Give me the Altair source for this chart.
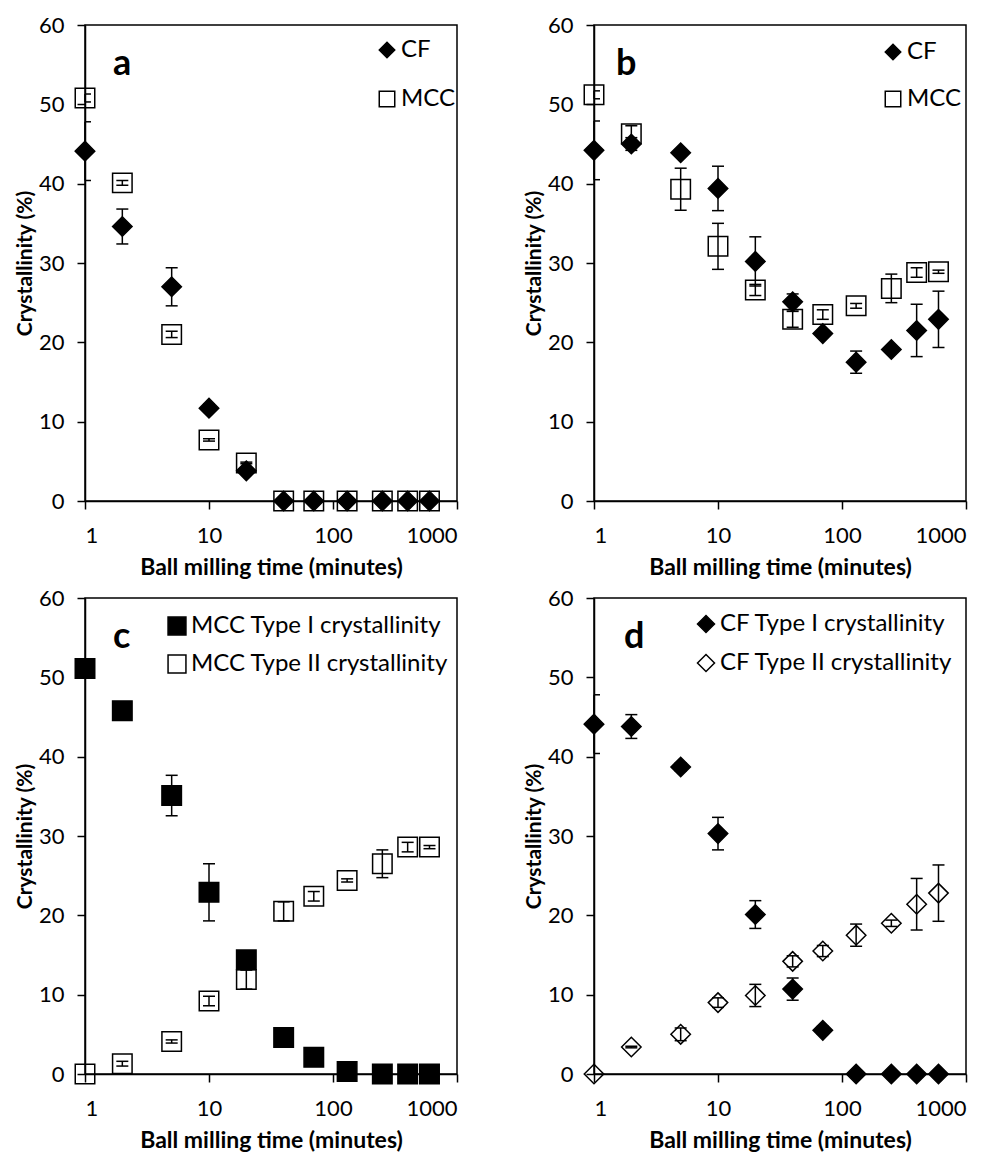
import altair as alt
import pandas as pd

FONT = "Lato"
TIMES = [1, 2, 5, 10, 20, 40, 70, 130, 250, 400, 600]

# Panel a
A_NAMES = ["CF", "MCC"]
A_CF = [44.1, 34.6, 27.0, 11.7, 3.8, 0, 0, 0, 0, 0, 0]
A_CF_ERR = [3.7, 2.2, 2.4, 0.5, 0.3, 0, 0, 0, 0, 0, 0]
A_MCC = [50.8, 40.1, 21.0, 7.7, 4.8, 0, 0, 0, 0, 0, 0]
A_MCC_ERR = [0.5, 0.3, 0.4, 0.15, 0.1, 0, 0, 0, 0, 0, 0]

# Panel b
B_NAMES = ["CF", "MCC"]
B_CF = [44.2, 45.0, 43.9, 39.4, 30.2, 25.1, 21.1, 17.5, 19.1, 21.5, 22.9]
B_CF_ERR = [3.7, 0.8, 0.3, 2.8, 3.1, 1.0, 0.3, 1.4, 0.3, 3.3, 3.55]
B_MCC = [51.2, 46.3, 39.3, 32.1, 26.6, 22.9, 23.5, 24.6, 26.8, 28.8, 28.9]
B_MCC_ERR = [0.5, 1.0, 2.65, 2.9, 0.7, 1.0, 0.6, 0.3, 1.8, 0.6, 0.2]

# Panel c
C_NAMES = ["MCC Type I crystallinity", "MCC Type II crystallinity"]
C_T1 = [51.1, 45.8, 35.1, 22.9, 14.4, 4.6, 2.1, 0.3, 0, 0, 0]
C_T1_ERR = [0, 0, 2.55, 3.6, 0.5, 0, 0, 0, 0, 0, 0]
C_T2 = [0, 1.3, 4.1, 9.2, 11.9, 20.5, 22.4, 24.4, 26.5, 28.6, 28.6]
C_T2_ERR = [0, 0.3, 0.2, 0.6, 1.2, 1.2, 0.6, 0.2, 1.75, 0.6, 0.2]

# Panel d
D_NAMES = ["CF Type I crystallinity", "CF Type II crystallinity"]
D_T1 = [44.1, 43.8, 38.7, 30.3, 20.1, 10.7, 5.5, 0, 0, 0, 0]
D_T1_ERR = [3.7, 1.5, 0.5, 2.05, 1.75, 1.4, 0.5, 0, 0, 0, 0]
D_T2 = [0, 3.4, 5.0, 9.0, 9.9, 14.2, 15.5, 17.5, 19.0, 21.4, 22.8]
D_T2_ERR = [0, 0.1, 0.8, 0.6, 1.4, 0.7, 0.7, 1.4, 0.4, 3.25, 3.55]

X_TICKS = [1, 10, 100, 1000]
Y_TICKS = [0, 10, 20, 30, 40, 50, 60]
X_TITLE = "Ball milling time (minutes)"
Y_TITLE = "Crystallinity (%)"

W, H = 372, 476


def xenc():
    return alt.X("t:Q", scale=alt.Scale(type="log", domain=[1, 1000], nice=False),
                 axis=alt.Axis(values=X_TICKS, format="d", title=X_TITLE))


def yenc(field):
    return alt.Y(field, type="quantitative", scale=alt.Scale(domain=[0, 60], nice=False),
                 axis=alt.Axis(values=Y_TICKS, title=Y_TITLE))


def panel(letter, letter_x, names, shapes, fills, ys_list, errs_list, lx, ly, rowpad, lsym):
    rows = []
    for name, ys, errs in zip(names, ys_list, errs_list):
        for t, v, e in zip(TIMES, ys, errs):
            rows.append({"t": t, "v": v, "lo": v - e, "hi": v + e, "e": e, "s": name})
    df = pd.DataFrame(rows)
    edf = df[df["e"] > 0]

    rule = alt.Chart(edf).mark_rule(color="black", strokeWidth=1.5).encode(
        x=xenc(), y=yenc("lo"), y2="hi:Q")
    caps = alt.Chart(edf).transform_fold(["lo", "hi"], as_=["k", "cv"]).mark_tick(
        orient="horizontal", size=12, thickness=1.5, color="black", clip=True, opacity=1
    ).encode(x=xenc(), y=yenc("cv"))

    leg = alt.Legend(title=None, orient="none", legendX=lx, legendY=ly,
                     rowPadding=rowpad, symbolSize=lsym, symbolStrokeColor="black",
                     symbolStrokeWidth=1.5, labelFontSize=24, labelFont=FONT,
                     labelColor="black", labelOffset=2, labelLimit=500)
    pts = alt.Chart(df).mark_point(filled=True, size=380, strokeWidth=1.5,
                                   opacity=1).encode(
        x=xenc(), y=yenc("v"),
        shape=alt.Shape("s:N", scale=alt.Scale(domain=names, range=shapes), legend=leg),
        fill=alt.Fill("s:N", scale=alt.Scale(domain=names, range=fills), legend=leg),
        stroke=alt.Stroke("s:N", scale=alt.Scale(domain=names, range=["black", "black"]),
                          legend=leg),
    )
    lab = alt.Chart(pd.DataFrame({"label": [letter]})).mark_text(
        font=FONT, fontSize=36, fontWeight="bold", align="left",
        baseline="alphabetic", color="black"
    ).encode(x=alt.value(letter_x), y=alt.value(50), text="label:N")
    return alt.layer(rule, caps, pts, lab).properties(width=W, height=H)


pa = panel("a", 28, A_NAMES, ["diamond", "square"], ["black", "transparent"],
           [A_CF, A_MCC], [A_CF_ERR, A_MCC_ERR], 290, 13, 25, 240)
pb = panel("b", 22, B_NAMES, ["diamond", "square"], ["black", "transparent"],
           [B_CF, B_MCC], [B_CF_ERR, B_MCC_ERR], 287, 15, 23, 240)
pc = panel("c", 28, C_NAMES, ["square", "square"], ["black", "transparent"],
           [C_T1, C_T2], [C_T1_ERR, C_T2_ERR], 80, 16, 14, 320)
pd_ = panel("d", 30, D_NAMES, ["diamond", "diamond"], ["black", "transparent"],
            [D_T1, D_T2], [D_T1_ERR, D_T2_ERR], 100, 14, 15, 290)

RES = dict(shape="independent", fill="independent", stroke="independent")
top = alt.hconcat(pa, pb, spacing=63).resolve_scale(**RES)
bot = alt.hconcat(pc, pd_, spacing=63).resolve_scale(**RES)
chart = alt.vconcat(top, bot, spacing=6).resolve_scale(**RES).configure_view(
    stroke="black", strokeWidth=1.5
).configure_axis(
    grid=False, domainColor="black", domainWidth=1.5, tickColor="black", tickWidth=1.5,
    tickSize=8, labelFont=FONT, labelFontSize=22, labelColor="black",
    titleFont=FONT, titleFontWeight="bold", titleColor="black",
).configure_axisX(labelPadding=16, titlePadding=10, titleFontSize=23).configure_axisY(
    labelPadding=13, titlePadding=3, titleFontSize=21
)

chart.save("out.html", embed_options={"renderer": "svg", "actions": False})
